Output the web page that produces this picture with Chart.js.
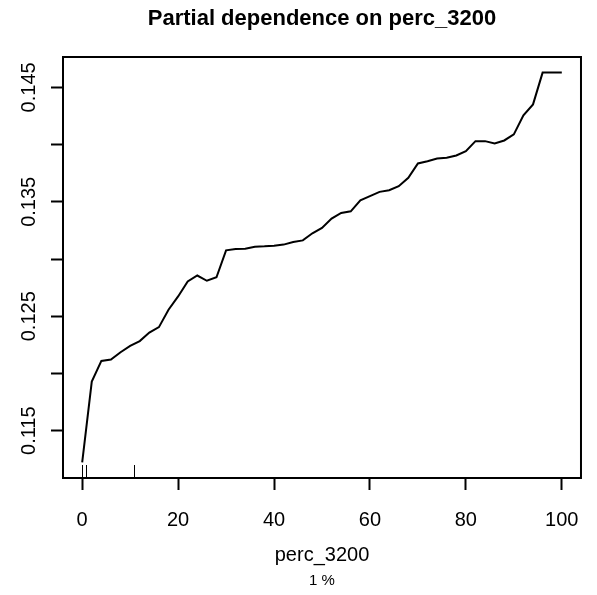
<!DOCTYPE html>
<html>
<head>
<meta charset="utf-8">
<script src="https://cdn.jsdelivr.net/npm/chart.js@4.4.1/dist/chart.umd.min.js"></script>
<style>
  html, body { margin: 0; padding: 0; background: #fff; }
</style>
</head>
<body>
<canvas id="pd" width="597" height="595"></canvas>
<script>
// partial dependence values
const xValues = [0, 2, 4, 6, 8, 10, 12, 14, 16, 18, 20, 22, 24, 26, 28, 30, 32, 34, 36, 38, 40,
    42, 44, 46, 48, 50, 52, 54, 56, 58, 60, 62, 64, 66, 68, 70, 72, 74, 76, 78, 80,
    82, 84, 86, 88, 90, 92, 94, 96, 98, 100];
const yValues = [0.11223, 0.11929, 0.12110, 0.12122, 0.12186, 0.12241, 0.12283, 0.12358, 0.12405, 0.12557, 0.12673,
    0.12804, 0.12856, 0.12810, 0.12841, 0.13076, 0.13088, 0.13090, 0.13108, 0.13111, 0.13117,
    0.13126, 0.13148, 0.13163, 0.13225, 0.13272, 0.13353, 0.13403, 0.13417, 0.13513, 0.13549,
    0.13587, 0.13601, 0.13636, 0.13710, 0.13835, 0.13855, 0.13879, 0.13885, 0.13905, 0.13942,
    0.14030, 0.14030, 0.14010, 0.14036, 0.14089, 0.14255, 0.14351, 0.14629, 0.14629, 0.14629];
const xTicks = [0, 20, 40, 60, 80, 100];
const yTicks = [0.115, 0.12, 0.125, 0.13, 0.135, 0.14, 0.145];
const yTickLabels = ['0.115', '', '0.125', '', '0.135', '', '0.145'];
const rugValues = [0, 0.83, 10.9];

const mainTitle = 'Partial dependence on perc_3200';
const xTitle = 'perc_3200';
const subTitle = '1 %';

const FONT = '"Liberation Sans", Arial, sans-serif';

// R style range: data range stretched by 4% on each side
const yMin = Math.min(...yValues), yMax = Math.max(...yValues);
const yPad = (yMax - yMin) * 0.04;
const xPad = (xValues[xValues.length - 1] - xValues[0]) * 0.04;

const extras = {
    id: 'extras',
    afterDraw(chart) {
        const ctx = chart.ctx;
        const a = chart.chartArea;
        const x = chart.scales.x, y = chart.scales.y;
        ctx.save();
        ctx.strokeStyle = '#000';
        ctx.lineWidth = 2;
        ctx.strokeRect(a.left, a.top, a.right - a.left, a.bottom - a.top);

        // rug (deciles)
        ctx.lineWidth = 1;
        rugValues.forEach(v => {
            const px = Math.round(x.getPixelForValue(v)) + 0.5;
            ctx.beginPath();
            ctx.moveTo(px, a.bottom);
            ctx.lineTo(px, a.bottom - 13);
            ctx.stroke();
        });

        // y tick labels, vertical
        ctx.fillStyle = '#000';
        ctx.font = '20px ' + FONT;
        ctx.textAlign = 'center';
        ctx.textBaseline = 'middle';
        yTicks.forEach((v, i) => {
            if (!yTickLabels[i]) return;
            ctx.save();
            ctx.translate(29, y.getPixelForValue(v));
            ctx.rotate(-Math.PI / 2);
            ctx.fillText(yTickLabels[i], 0, 0);
            ctx.restore();
        });

        const cx = (a.left + a.right) / 2;
        ctx.textBaseline = 'alphabetic';
        ctx.fillText(xTitle, cx, 561);
        ctx.font = '15px ' + FONT;
        ctx.fillText(subTitle, cx, 585);
        ctx.font = 'bold 22px ' + FONT;
        ctx.textBaseline = 'middle';
        ctx.fillText(mainTitle, cx, 19);
        ctx.restore();
    }
};

new Chart(document.getElementById('pd'), {
    type: 'line',
    data: {
        datasets: [{
            data: xValues.map((v, i) => ({ x: v, y: yValues[i] })),
            borderColor: '#000',
            borderWidth: 2,
            pointRadius: 0,
            tension: 0,
            fill: false
        }]
    },
    options: {
        responsive: false,
        animation: false,
        layout: { padding: { top: 57, right: 14, bottom: 0, left: 0 } },
        plugins: { legend: { display: false }, tooltip: { enabled: false } },
        scales: {
            x: {
                type: 'linear',
                min: xValues[0] - xPad,
                max: xValues[xValues.length - 1] + xPad,
                afterBuildTicks: s => { s.ticks = xTicks.map(v => ({ value: v })); },
                afterFit: s => { s.height = 117; },
                border: { display: false },
                grid: { drawOnChartArea: false, drawTicks: true, tickLength: 12, tickColor: '#000', tickWidth: 2 },
                ticks: { color: '#000', font: { family: FONT, size: 20 }, padding: 18, maxRotation: 0 }
            },
            y: {
                type: 'linear',
                min: yMin - yPad,
                max: yMax + yPad,
                afterBuildTicks: s => { s.ticks = yTicks.map(v => ({ value: v })); },
                afterFit: s => { s.width = 63; },
                border: { display: false },
                grid: { drawOnChartArea: false, drawTicks: true, tickLength: 12, tickColor: '#000', tickWidth: 2 },
                ticks: { callback: () => '' }
            }
        }
    },
    plugins: [extras]
});
</script>
</body>
</html>
